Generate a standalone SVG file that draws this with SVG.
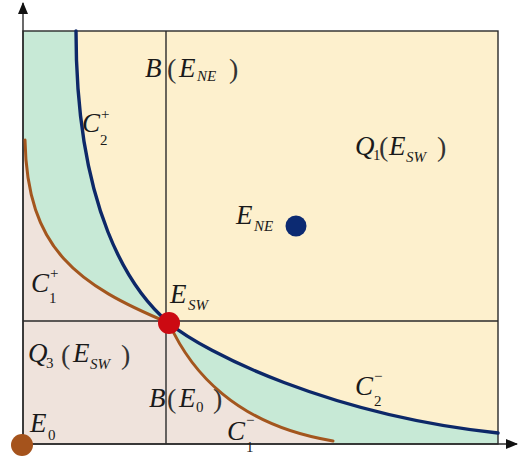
<svg xmlns="http://www.w3.org/2000/svg" width="520" height="459" viewBox="0 0 520 459">
<defs>
<style>
.t{font-family:"Liberation Serif","Times New Roman",serif;font-style:italic;font-size:27px;fill:#1a1a1a}
.s{font-size:15px}
.n{font-style:normal}
.p{font-style:normal;font-size:28px;fill:#333}
.ln{stroke:#2a2a2a;stroke-width:1.4;fill:none}
.c2{stroke:#0d2868;stroke-width:3.4;fill:none;stroke-linecap:round}
.c1{stroke:#a3561e;stroke-width:3;fill:none;stroke-linecap:round}
</style>
<marker id="ah" viewBox="0 0 12 10" refX="11" refY="5" markerWidth="12" markerHeight="10" markerUnits="userSpaceOnUse" orient="auto">
<path d="M0,0 L12,5 L0,10 Z" fill="#111"/>
</marker>
</defs>
<rect width="520" height="459" fill="#ffffff"/>
<g id="regions">
<rect x="23" y="31" width="475" height="413" fill="#fdf0cd"/>
<path d="M23,31 L76,31 C76,210 130,290 169,323 C205,353 330,415 498,433 L498,444 L333,444 C235,425 190,370 169,323 C78,285 27,250 25,140 L23,140 Z" fill="#c7e9d6"/>
<path d="M23,140 L25,140 C27,250 78,285 169,323 C190,370 235,425 333,441 L333,444 L23,444 Z" fill="#efe3dc"/>
</g>
<g id="connectors">
<rect x="23" y="31" width="475" height="413" class="ln"/>
<line x1="166" y1="31" x2="166" y2="444" class="ln"/>
<line x1="23" y1="321" x2="498" y2="321" class="ln"/>
<line x1="23" y1="444" x2="23" y2="3" class="ln" marker-end="url(#ah)"/>
<line x1="23" y1="444" x2="517" y2="444" class="ln" marker-end="url(#ah)"/>
<path id="C2" d="M76,31 C76,210 130,290 169,323 C205,353 330,415 498,433" class="c2"/>
<path id="C1" d="M25,140 C27,250 78,285 169,323 C190,370 235,425 333,441" class="c1"/>
</g>
<g id="E0"><circle cx="22" cy="445" r="11" fill="#a5531c"/></g>
<g id="ESW"><circle cx="169" cy="323" r="11" fill="#cc0a12"/></g>
<g id="ENE"><circle cx="296" cy="226" r="10.5" fill="#0c2a72"/></g>
<g id="labels">
<text class="t"><tspan x="145" y="77">B</tspan><tspan x="167" y="78" class="p">(</tspan><tspan x="179" y="77">E</tspan><tspan x="197" y="81" class="s">NE</tspan><tspan x="229" y="78" class="p">)</tspan></text>
<text class="t"><tspan x="82" y="132">C</tspan><tspan x="101" y="119" class="s n">+</tspan><tspan x="100" y="145" class="s n">2</tspan></text>
<text class="t"><tspan x="355" y="155">Q</tspan><tspan x="373" y="160" class="s n">1</tspan><tspan x="379" y="156" class="p">(</tspan><tspan x="389" y="155">E</tspan><tspan x="406" y="162" class="s">SW</tspan><tspan x="437" y="156" class="p">)</tspan></text>
<text class="t"><tspan x="236" y="224">E</tspan><tspan x="254" y="231" class="s">NE</tspan></text>
<text class="t"><tspan x="170" y="303">E</tspan><tspan x="188" y="310" class="s">SW</tspan></text>
<text class="t"><tspan x="31" y="292">C</tspan><tspan x="50" y="278" class="s n">+</tspan><tspan x="49" y="303" class="s n">1</tspan></text>
<text class="t"><tspan x="28" y="362">Q</tspan><tspan x="46" y="368" class="s n">3</tspan><tspan x="61" y="364" class="p">(</tspan><tspan x="73" y="362">E</tspan><tspan x="90" y="369" class="s">SW</tspan><tspan x="121" y="364" class="p">)</tspan></text>
<text class="t"><tspan x="149" y="407">B</tspan><tspan x="167" y="408" class="p">(</tspan><tspan x="179" y="407">E</tspan><tspan x="196" y="412" class="s n">0</tspan><tspan x="213" y="408" class="p">)</tspan></text>
<text class="t"><tspan x="227" y="440">C</tspan><tspan x="246" y="425" class="s n">−</tspan><tspan x="246" y="452" class="s n">1</tspan></text>
<text class="t"><tspan x="355" y="395">C</tspan><tspan x="374" y="381" class="s n">−</tspan><tspan x="374" y="406" class="s n">2</tspan></text>
<text class="t"><tspan x="30" y="432">E</tspan><tspan x="48" y="440" class="s n">0</tspan></text>
</g>
</svg>
